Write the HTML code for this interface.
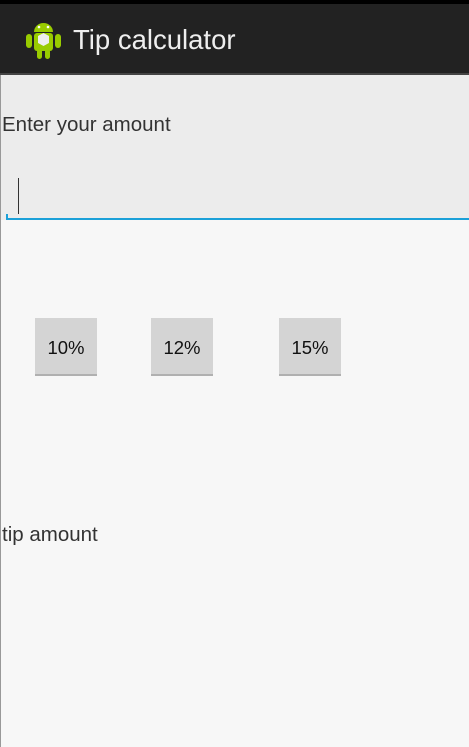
<!DOCTYPE html>
<html><head><meta charset="utf-8"><style>
body{margin:0;width:469px;height:747px;overflow:hidden;background:#f7f7f7;font-family:"Liberation Sans",sans-serif;position:relative}
.abs{position:absolute}
.btn{position:absolute;top:318px;width:62px;height:58px;background:#d4d4d4;border-bottom:2px solid #b0b0b0;box-sizing:border-box;font-size:18.5px;color:#111;text-align:center;line-height:60px}
</style></head><body>
<div class="abs" style="left:0;top:0;width:469px;height:4px;background:#000"></div>
<div class="abs" style="left:0;top:4px;width:469px;height:70px;background:#222"></div>
<div class="abs" style="left:0;top:73px;width:469px;height:2px;background:#444"></div>
<svg class="abs" style="left:25px;top:18px" width="37" height="44" viewBox="0 0 37 44">
<rect x="9" y="15" width="19" height="18" rx="3" fill="#9c0"/>
<path d="M9 14 A9.5 9 0 0 1 28 14 Z" fill="#9c0"/>
<rect x="1" y="16" width="6" height="14" rx="3" fill="#9c0"/><rect x="30" y="16" width="6" height="14" rx="3" fill="#9c0"/>
<rect x="12" y="31" width="5" height="10" rx="2.5" fill="#9c0"/><rect x="20" y="31" width="5" height="10" rx="2.5" fill="#9c0"/>
<path d="M13 18 L18.5 15 L24 18 L24 25 L18.5 28 L13 25Z" fill="#eee"/>
<circle cx="14" cy="9" r="1.3" fill="#fff"/><circle cx="23" cy="9" r="1.3" fill="#fff"/>
</svg>
<div class="abs" style="left:73px;top:24px;font-size:27.5px;color:#eee">Tip calculator</div>
<div class="abs" style="left:0;top:75px;width:469px;height:145px;background:#ececec"></div>
<div class="abs" style="left:2px;top:113px;font-size:20.5px;color:#333">Enter your amount</div>
<div class="abs" style="left:6px;top:178px;width:463px;height:42px"></div>
<div class="abs" style="left:18px;top:178px;width:1px;height:36px;background:#333"></div>
<div class="abs" style="left:6px;top:218px;width:463px;height:2px;background:#1ba0d8"></div>
<div class="abs" style="left:6px;top:214px;width:2px;height:6px;background:#1ba0d8"></div>
<div class="btn" style="left:35px">10%</div>
<div class="btn" style="left:151px">12%</div>
<div class="btn" style="left:279px">15%</div>
<div class="abs" style="left:2px;top:523px;font-size:20.5px;color:#333">tip amount</div>
<div class="abs" style="left:0;top:75px;width:1px;height:672px;background:#999"></div>
</body></html>
